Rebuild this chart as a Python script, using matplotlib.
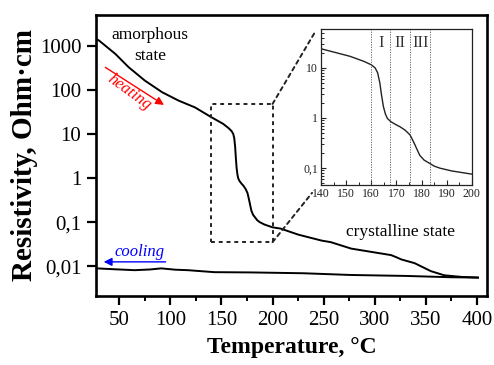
import matplotlib
matplotlib.use("Agg")
import matplotlib.pyplot as plt
from matplotlib.patches import Rectangle, ConnectionPatch
from matplotlib.ticker import FixedLocator, MultipleLocator, LogLocator, NullFormatter, NullLocator

plt.rcParams["font.family"] = ["Liberation Serif", "DejaVu Serif"]

# heating curve
T_heat = [28, 30, 46, 59, 75, 92, 108, 124, 140, 151.5, 157, 160, 161.5, 162.5, 163.4, 164,
          164.8, 165.6, 166.4, 167.7, 169.5, 171.4, 173.5, 175.4, 176.5, 177.4, 178.3, 179.3,
          181, 183.3, 185, 187.3, 192, 200, 208, 225, 248, 257, 277, 297, 316, 321, 326, 339,
          355, 368, 385, 401]
R_heat = [1400, 1320, 657, 328, 162, 88, 57, 40, 24, 17, 13.5, 11.5, 10, 8, 5, 3,
          1.7, 1.2, 0.98, 0.85, 0.75, 0.67, 0.57, 0.46, 0.36, 0.29, 0.23, 0.18,
          0.145, 0.124, 0.11, 0.10, 0.088, 0.076, 0.071, 0.052, 0.038, 0.035, 0.025, 0.021,
          0.0178, 0.016, 0.0142, 0.0117, 0.0077, 0.0062, 0.0057, 0.0055]

# cooling curve
T_cool = [28, 45, 65, 80, 91, 105, 117, 143, 179, 230, 277, 330, 375, 401]
R_cool = [0.0089, 0.0085, 0.0081, 0.0084, 0.0089, 0.0083, 0.0081, 0.0073, 0.0072, 0.0069,
          0.0063, 0.0060, 0.0056, 0.0055]

y_ticks = [0.01, 0.1, 1, 10, 100, 1000]
y_tick_labels = ["0,01", "0,1", "1", "10", "100", "1000"]
x_ticks = [50, 100, 150, 200, 250, 300, 350, 400]

inset_y_ticks = [0.1, 1, 10]
inset_y_labels = ["0,1", "1", "10"]
inset_x_ticks = [140, 150, 160, 170, 180, 190, 200]
stage_bounds = [160, 167.5, 175.5, 183.5]
stage_names = ["I", "II", "III"]

fig = plt.figure(figsize=(4.94, 3.65), dpi=100)
ax = fig.add_axes([0.194, 0.189, 0.792, 0.770])

ax.plot(T_heat, R_heat, color="black", lw=1.4)
ax.plot(T_cool, R_cool, color="black", lw=1.4)
ax.set_yscale("log")
ax.set_xlim(27, 410)
ax.set_ylim(0.0021, 5000)

ax.yaxis.set_major_locator(FixedLocator(y_ticks))
ax.set_yticklabels(y_tick_labels)
ax.yaxis.set_minor_locator(NullLocator())
ax.xaxis.set_major_locator(FixedLocator(x_ticks))
ax.xaxis.set_minor_locator(MultipleLocator(25))
ax.tick_params(which="major", direction="out", length=6.5, width=1.6, labelsize=15, pad=4)
ax.tick_params(which="minor", direction="out", length=3.5, width=1.4)
for s in ax.spines.values():
    s.set_linewidth(1.9)

ax.set_xlabel("Temperature, °C", fontsize=17, fontweight="bold", labelpad=5)
ax.set_ylabel("Resistivity, Ohm·cm", fontsize=21, fontweight="bold", labelpad=1)

# annotations
ax.text(80, 1000, "amorphous\nstate", ha="center", va="center", fontsize=12.5, linespacing=1.45)
ax.text(325, 0.059, "crystalline state", ha="center", va="center", fontsize=12.5)
ax.annotate("", xy=(96, 42), xytext=(34, 350),
            arrowprops=dict(arrowstyle="-|>", color="red", lw=1.0, mutation_scale=12))
ax.text(60, 90, "heating", color="red", style="italic", fontsize=12, rotation=-36,
        ha="center", va="center")
ax.annotate("", xy=(32, 0.0125), xytext=(98, 0.0125),
            arrowprops=dict(arrowstyle="-|>", color="blue", lw=1.0, mutation_scale=12))
ax.text(70, 0.021, "cooling", color="blue", style="italic", fontsize=12, ha="center", va="center")

# dashed zoom box
ax.add_patch(Rectangle((140, 0.035), 60, 48 - 0.035, fill=False, ls=(0, (2, 2)), lw=1.4,
                       ec="#222222", zorder=3))

# inset
axin = fig.add_axes([0.650, 0.493, 0.305, 0.428])
axin.plot(T_heat, R_heat, color="#222222", lw=1.0)
axin.set_yscale("log")
axin.set_xlim(140, 200)
axin.set_ylim(0.046, 60)
axin.yaxis.set_major_locator(FixedLocator(inset_y_ticks))
axin.set_yticklabels(inset_y_labels)
axin.yaxis.set_minor_locator(LogLocator(base=10, subs=range(2, 10)))
axin.yaxis.set_minor_formatter(NullFormatter())
axin.xaxis.set_major_locator(FixedLocator(inset_x_ticks))
axin.xaxis.set_minor_locator(MultipleLocator(5))
axin.tick_params(which="major", direction="in", length=3.5, width=0.8, labelsize=8.5, pad=2,
                 colors="#222222")
axin.tick_params(which="minor", direction="in", length=2, width=0.6)
for s in axin.spines.values():
    s.set_linewidth(0.9)
    s.set_color("#222222")
for b in stage_bounds:
    axin.axvline(b, color="#555555", lw=0.6, ls=(0, (1.5, 1.5)))
for i, name in enumerate(stage_names):
    xc = 0.5 * (stage_bounds[i] + stage_bounds[i + 1])
    axin.text(xc, 31, name, ha="center", va="center", fontsize=12, color="#333333")

# connecting dashed lines
for xyA, xyB in [((200, 48), (-0.04, 0.98)), ((200, 0.035), (-0.06, -0.05))]:
    con = ConnectionPatch(xyA=xyA, coordsA="data", axesA=ax, xyB=xyB, coordsB="axes fraction",
                          axesB=axin, ls=(0, (2, 2)), lw=1.4, color="#222222")
    fig.add_artist(con)

fig.savefig("out.png", dpi=100)
